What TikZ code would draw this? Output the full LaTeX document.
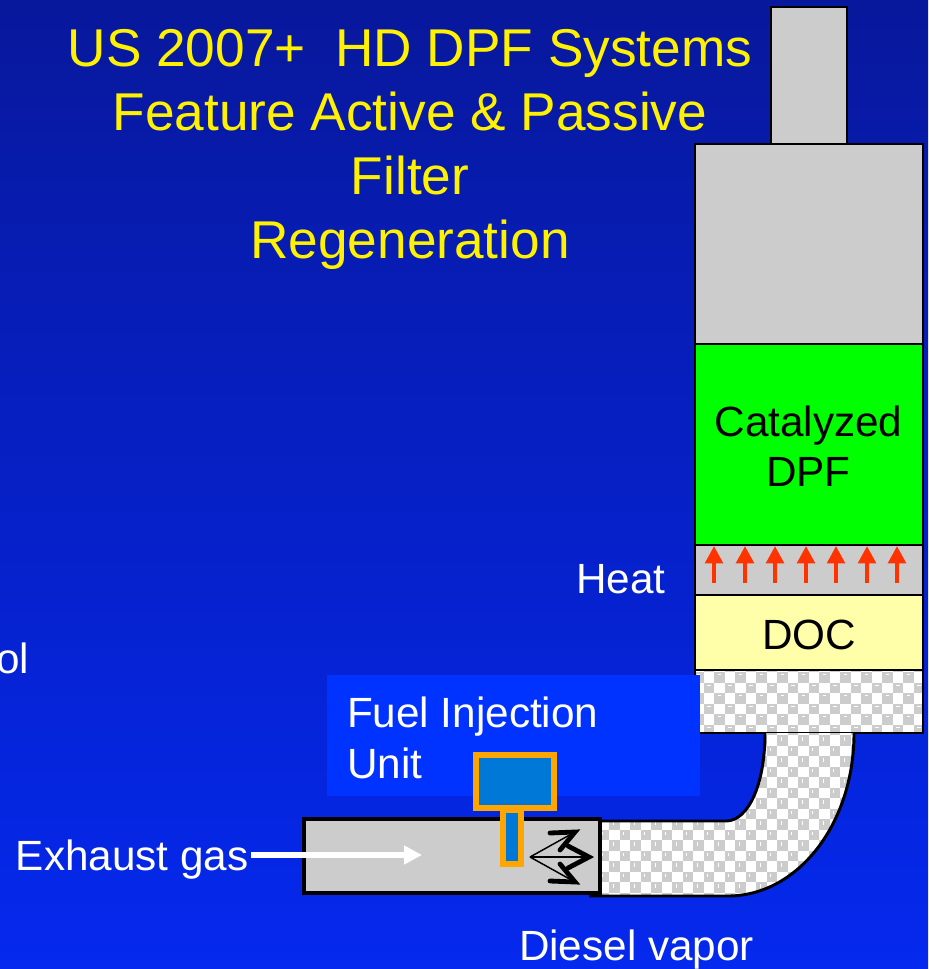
\documentclass[tikz,border=0pt]{standalone}
\usepackage{fontspec}
\setmainfont{Liberation Sans}
\usetikzlibrary{arrows.meta}
\definecolor{bgtop}{HTML}{08189C}
\definecolor{bgbot}{HTML}{0529EE}
\definecolor{bgmid}{HTML}{0620C6}
\definecolor{hilite}{HTML}{0033FF}
\definecolor{greyfill}{HTML}{CCCCCC}
\definecolor{docfill}{HTML}{FFFFAA}
\definecolor{dpfgreen}{HTML}{00FF00}
\definecolor{injblue}{HTML}{0078D8}
\definecolor{injorange}{HTML}{FFA500}
\definecolor{heatred}{HTML}{FF3300}
% #1..#4 region, #5 and #6 size of the small white dash inside a grey cell
\newcommand{\chk}[6]{%
  \fill[white] (#1,#2) rectangle (#3,#4);
  \pgfmathtruncatemacro{\ia}{floor(#1/10.5)}%
  \pgfmathtruncatemacro{\ib}{ceil(#3/10.5)}%
  \pgfmathtruncatemacro{\ja}{floor(#2/10.5)}%
  \pgfmathtruncatemacro{\jb}{ceil(#4/10.5)}%
  \foreach \i in {\ia,...,\ib}{\foreach \j in {\ja,...,\jb}{%
    \pgfmathtruncatemacro{\pr}{mod(\i+\j,2)}%
    \ifnum\pr=0
      \fill[greyfill] ({\i*10.5},{\j*10.5}) rectangle ++(10.5,10.5);
      \fill[white] ({\i*10.5+3.5},{\j*10.5+2}) rectangle ++(#5,#6);
    \fi
  }}%
}
\tikzset{
  x=0.75pt,y=-0.75pt,
  partbox/.style={draw=black,line width=1.9pt,inner sep=0pt,outer sep=0pt},
  lbl/.style={inner sep=0pt,outer sep=0pt,font=\fontsize{31.7}{38.5}\selectfont},
  burst/.style={line width=1.1pt,black},
  barb/.style={line width=3.6pt,black,line cap=round},
  heatarrow/.style={draw=heatred,line width=3.7pt,-{Triangle[width=13pt,length=13pt,fill=heatred]}},
}
\begin{document}
\begin{tikzpicture}
\useasboundingbox (0,0) rectangle (928,969);
\shade[top color=bgtop,bottom color=bgbot,middle color=bgmid] (0,0) rectangle (928,969);

% exhaust stack
\node[partbox,fill=greyfill,minimum width={(847-771)*0.75pt},minimum height={(144-7)*0.75pt}] (stack) at ({(771+847)/2},{(7+144)/2}) {};
\node[partbox,fill=greyfill,minimum width={(923-695)*0.75pt},minimum height={(344-144)*0.75pt}] (can) at ({(695+923)/2},{(144+344)/2}) {};
\node[partbox,fill=dpfgreen,minimum width={(923-695)*0.75pt},minimum height={(545-344)*0.75pt}] (dpf) at ({(695+923)/2},{(344+545)/2}) {};
\node[inner sep=0pt,align=center,font=\fontsize{31.7}{37.8}\selectfont] (dpftxt) at (808.5,446) {Catalyzed\\DPF};
\node[partbox,fill=greyfill,minimum width={(923-695)*0.75pt},minimum height={(595-545)*0.75pt}] (heatzone) at ({(695+923)/2},{(545+595)/2}) {};
\node[partbox,fill=docfill,minimum width={(923-695)*0.75pt},minimum height={(670-595)*0.75pt}] (doc) at ({(695+923)/2},{(595+670)/2}) {};
\node[inner sep=0pt,font=\fontsize{31.7}{38.5}\selectfont] (doctxt) at (809,635) {DOC};

% insulated section of the stack
\begin{scope}
  \clip (695,670) rectangle (923,733);
  \chk{695}{670}{923}{733}{3.5}{1.4}
\end{scope}
\draw[line width=2.2pt] (695,670) rectangle (923,733);

% insulated bend
\begin{scope}
  \clip (765,733) .. controls (765,785) and (748,821) .. (726,821) -- (590,821) -- (590,896) -- (728,896) .. controls (797,896) and (854,825) .. (854,733) -- cycle;
  \chk{590}{733}{855}{897}{1.4}{3.5}
\end{scope}
\draw[line width=2.2pt] (765,733) .. controls (765,785) and (748,821) .. (726,821) -- (600,821);
\draw[line width=2.2pt] (854,733) .. controls (854,825) and (797,896) .. (728,896) -- (589,896);

% inlet pipe
\node[partbox,line width=2.3pt,fill=greyfill,minimum width={(600-304)*0.75pt},minimum height={(893-819)*0.75pt}] (inlet) at ({(304+600)/2},{(819+893)/2}) {};

% fuel injection label
\node[fill=hilite,inner sep=0pt,outer sep=0pt,minimum width={(700-327)*0.75pt},minimum height={(796-675)*0.75pt}] (fuelbox) at ({(327+700)/2},{(675+796)/2}) {};
\node[lbl,align=left,anchor=west,text=white] (fueltxt) at (347,738) {Fuel Injection\\Unit};

% injector
\node[draw=injorange,fill=injblue,line width=3.8pt,inner sep=0pt,outer sep=0pt,minimum width={(554-476)*0.75pt},minimum height={(808-755)*0.75pt}] (injhead) at ({(476+554)/2},{(755+808)/2}) {};
\node[draw=injorange,fill=injblue,line width=3.8pt,inner sep=0pt,outer sep=0pt,minimum width={(521-503)*0.75pt},minimum height={(864-810)*0.75pt}] (injstem) at ({(503+521)/2},{(810+864)/2}) {};

% flow arrow
\node[lbl,anchor=base west,text=white] (exhaust) at (16,870) {Exhaust gas};
\coordinate (flowend) at (422,855);
\draw[white,line width=4.3pt,-{Triangle[width=13.5pt,length=13.5pt]}] ([xshift=2pt]exhaust.east |- flowend) -- (flowend);

% vapor spray
\coordinate (sprayO) at (530,857);
\coordinate (sprayU) at (575,832);
\coordinate (sprayM) at (589,857);
\coordinate (sprayL) at (575,882);
\draw[burst] (sprayO) -- (sprayU);
\draw[burst] (sprayO) -- (sprayM);
\draw[burst] (sprayO) -- (sprayL);
\draw[barb] (550,833) -- (sprayU) -- (560,850);
\draw[barb] (568,846) -- (sprayM) -- (568,868);
\draw[barb] (550,881) -- (sprayL) -- (560,864);

% heat arrows
\foreach \x/\n in {714/a,745/b,775/c,806/d,836/e,867/f,897/g}{
  \coordinate (ht\n) at (\x,583);
  \coordinate (hh\n) at (\x,546);
  \draw[heatarrow] (ht\n) -- (hh\n);
}

% texts
\node[anchor=center,align=center,text=yellow,inner sep=0pt,font=\fontsize{39.9}{48}\selectfont] (title) at (410,149) {US 2007+\ \ HD DPF Systems\\Feature Active \& Passive\\Filter\\Regeneration};
\node[lbl,anchor=base west,text=white] (heat) at (576,593) {Heat};
\node[lbl,anchor=base east,text=white] (frag) at (29,673) {ol};
\node[lbl,anchor=base west,text=white] (vapor) at (519,960) {Diesel vapor};
\end{tikzpicture}
\end{document}
